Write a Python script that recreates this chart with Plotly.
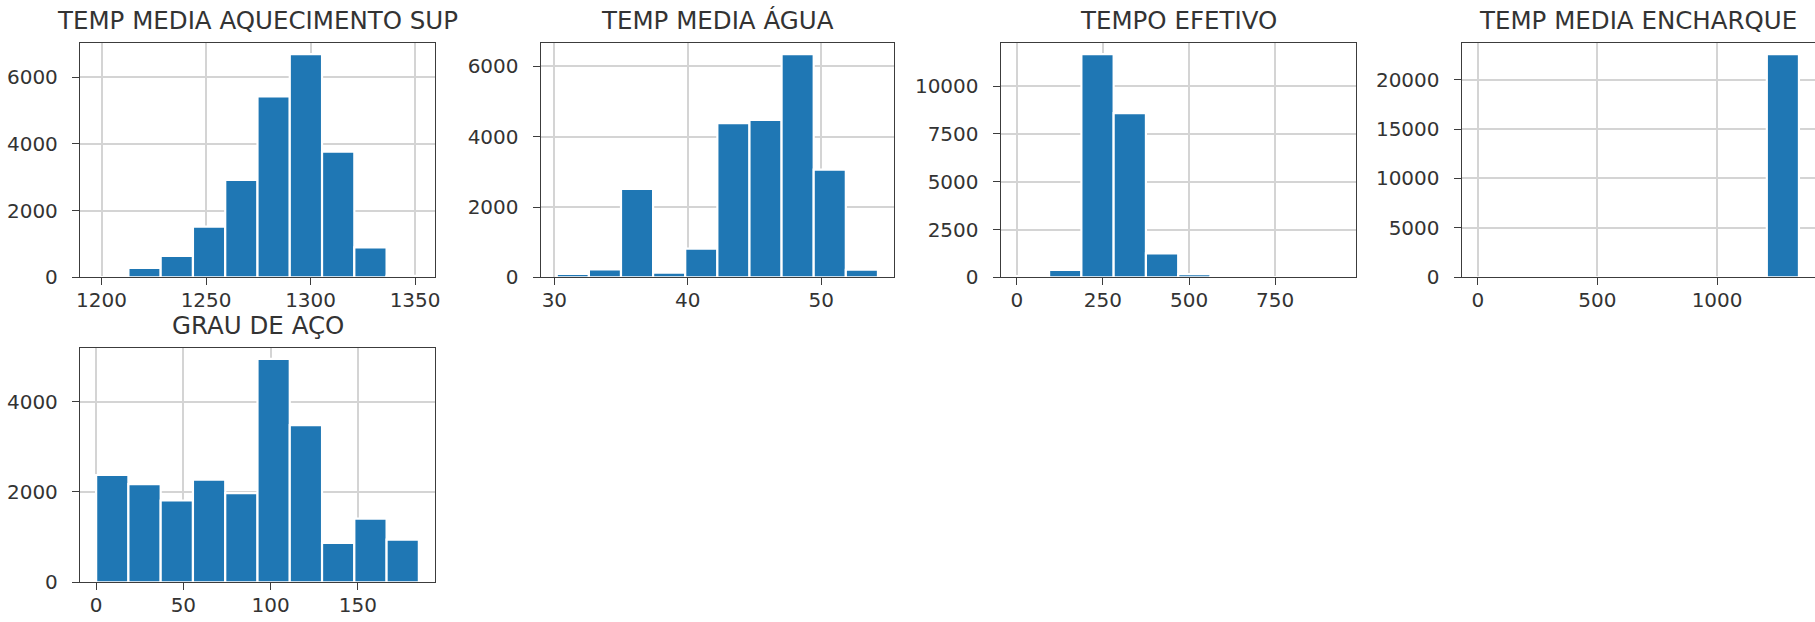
import plotly.graph_objects as go

# ---- histogram data: counts per bin and the (min, max) span of each column ----
titles = ["TEMP MEDIA AQUECIMENTO SUP", "TEMP MEDIA ÁGUA", "TEMPO EFETIVO",
          "TEMP MEDIA ENCHARQUE", "GRAU DE AÇO"]

aquec_span = (1197.4, 1351.8)
aquec_counts = [4, 285, 640, 1520, 2920, 5420, 6690, 3770, 900, 40]

agua_span = (30.18, 54.26)
agua_counts = [95, 225, 2515, 130, 815, 4390, 4480, 6350, 3065, 215]

tempo_span = (0, 937)
tempo_counts = [60, 385, 11670, 8590, 1255, 170, 8, 3, 1, 1]

encharque_span = (0, 1342)
encharque_counts = [6, 0, 0, 0, 0, 0, 0, 0, 0, 22570]

grau_span = (0, 185)
grau_counts = [2375, 2175, 1810, 2270, 1975, 4945, 3480, 870, 1410, 945]

x_ticks = [[1200, 1250, 1300, 1350], [30, 40, 50], [0, 250, 500, 750],
           [0, 500, 1000], [0, 50, 100, 150]]
y_ticks = [[0, 2000, 4000, 6000], [0, 2000, 4000, 6000],
           [0, 2500, 5000, 7500, 10000], [0, 5000, 10000, 15000, 20000],
           [0, 2000, 4000]]

spans = [aquec_span, agua_span, tempo_span, encharque_span, grau_span]
counts = [aquec_counts, agua_counts, tempo_counts, encharque_counts, grau_counts]

# ---- layout geometry (pixels) ----
W, H = 1815, 622
boxes = [  # (left, right, top, bottom)
    (80, 435, 43, 277.3),
    (540.7, 894, 43, 277.3),
    (1000.7, 1355.7, 43, 277.3),
    (1461.7, 1815, 43, 277.3),
    (80, 435, 347.7, 582.3),
]

FONT = "DejaVu Sans"
TXT = "#333333"
SPINE = "#3c3c3c"
GRID = "#d4d4d4"
BAR = "#1f77b4"

fig = go.Figure()
layout = dict(
    width=W, height=H, autosize=False,
    margin=dict(l=0, r=0, t=0, b=0, autoexpand=False),
    paper_bgcolor="white", plot_bgcolor="white",
    showlegend=False,
    font=dict(family=FONT, size=20, color=TXT),
    annotations=[],
)

for i, (title, span, cnt, xt, yt, box) in enumerate(
        zip(titles, spans, counts, x_ticks, y_ticks, boxes)):
    n = i + 1
    xa = "x" if n == 1 else f"x{n}"
    ya = "y" if n == 1 else f"y{n}"
    lo, hi = span
    nb = len(cnt)
    w = (hi - lo) / nb
    centers = [lo + w * (k + 0.5) for k in range(nb)]
    fig.add_trace(go.Bar(
        x=centers, y=cnt, width=w, xaxis=xa, yaxis=ya,
        marker=dict(color=BAR, line=dict(color="white", width=2.2)),
        hoverinfo="x+y",
    ))
    pad = 0.05 * (hi - lo)
    l, r, t, b = box
    axis_common = dict(
        showline=True, linecolor=SPINE, linewidth=1.3, mirror=True,
        ticks="outside", ticklen=7, tickwidth=1.3, tickcolor=SPINE,
        showgrid=True, gridcolor=GRID, gridwidth=1.5,
        zeroline=False, automargin=False,
        tickfont=dict(family=FONT, size=20, color=TXT),
        tickmode="array",
    )
    layout["xaxis" if n == 1 else f"xaxis{n}"] = dict(
        axis_common, domain=[l / W, r / W], range=[lo - pad, hi + pad],
        tickvals=xt, ticktext=[str(v) for v in xt],
        anchor=ya, ticklabelstandoff=-2,
    )
    layout["yaxis" if n == 1 else f"yaxis{n}"] = dict(
        axis_common, domain=[1 - b / H, 1 - t / H], range=[0, max(cnt) * 1.05],
        tickvals=yt, ticktext=[str(v) for v in yt],
        anchor=xa, ticklabelstandoff=10,
    )
    layout["annotations"].append(dict(
        text=title, xref="paper", yref="paper",
        x=(l + r) / 2 / W, y=1 - (t - 22) / H,
        xanchor="center", yanchor="middle", showarrow=False,
        font=dict(family=FONT, size=24.5, color=TXT),
    ))

fig.update_layout(**layout)
fig.write_html("out.html")
